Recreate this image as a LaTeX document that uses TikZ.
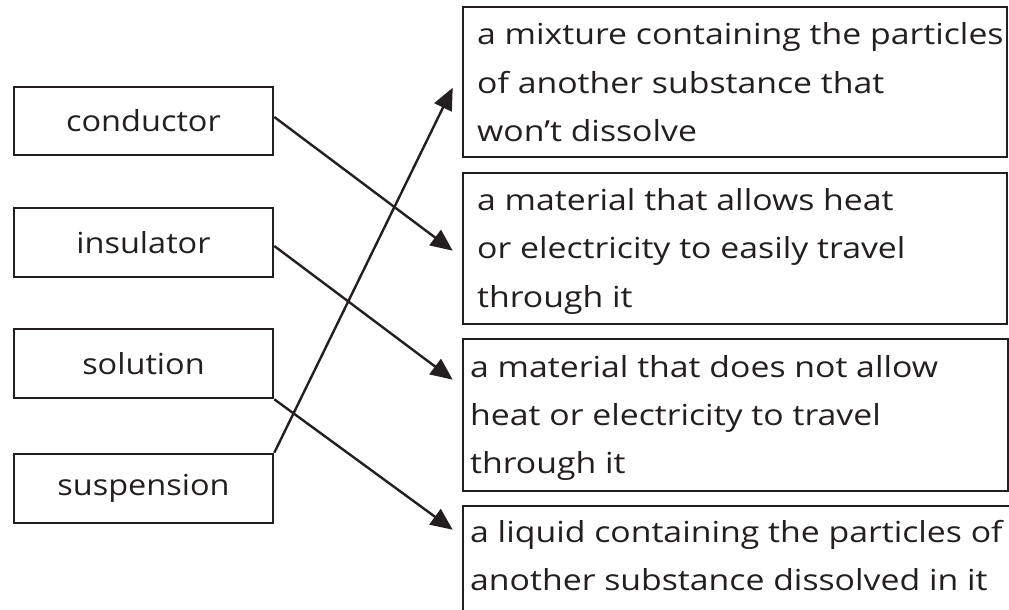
\documentclass[tikz,border=0pt]{standalone}
\usepackage{fontspec}
\setmainfont[FakeStretch=1.12]{Open Sans}
\newfontfamily\deffont[FakeStretch=1.165]{Open Sans}
\usetikzlibrary{arrows.meta}
\definecolor{ink}{HTML}{231F20}
\begin{document}
\begin{tikzpicture}[x=1pt,y=-1pt,
  box/.style={draw=ink,line width=2.6pt,inner sep=0pt,text=ink,font=\fontsize{29}{35}\selectfont},
  txtline/.style={text=ink,anchor=base west,inner sep=0pt,font=\deffont\fontsize{29}{35}\selectfont},
  conn/.style={draw=ink,line width=2.4pt,-{Triangle[length=22pt,width=19pt]}}]
\clip (0,0) rectangle (1009,610);
% left terms
\node[box,minimum width=259pt,minimum height=68pt] (conductor) at (143.5,121) {conductor};
\node[box,minimum width=259pt,minimum height=69pt] (insulator) at (143.5,242.5) {insulator};
\node[box,minimum width=259pt,minimum height=69pt] (solution) at (143.5,363.5) {solution};
\node[box,minimum width=259pt,minimum height=69pt] (suspension) at (143.5,488.5) {suspension};
% right definitions
\node[box,minimum width=544pt,minimum height=150pt] (d1) at (735,82) {};
\node[box,minimum width=544pt,minimum height=151pt] (d2) at (735,248.5) {};
\node[box,minimum width=545pt,minimum height=152pt] (d3) at (735.5,415) {};
\node[box,minimum width=552pt,minimum height=114pt] (d4) at (739,563) {};
\node[txtline] (d1a) at (477,45) {a mixture containing the particles};
\node[txtline] (d1b) at (477,93) {of another substance that};
\node[txtline] (d1c) at (477,141) {won’t dissolve};
\node[txtline] (d2a) at (477,210) {a material that allows heat};
\node[txtline] (d2b) at (477,258) {or electricity to easily travel};
\node[txtline] (d2c) at (477,307) {through it};
\node[txtline] (d3a) at (470,377) {a material that does not allow};
\node[txtline] (d3b) at (470,425) {heat or electricity to travel};
\node[txtline] (d3c) at (470,473) {through it};
\node[txtline] (d4a) at (470,542) {a liquid containing the particles of};
\node[txtline] (d4b) at (470,590) {another substance dissolved in it};
% connectors
\draw[conn] ([yshift=4pt]conductor.east) -- ([shift={(-9,79)}]d2.north west);
\draw[conn] ([yshift=-3.5pt]insulator.east) -- ([shift={(-9,42)}]d3.north west);
\draw[conn] (solution.south east) -- ([shift={(-9,25)}]d4.north west);
\draw[conn] (suspension.north east) -- ([shift={(-9,82)}]d1.north west);
\end{tikzpicture}
\end{document}
